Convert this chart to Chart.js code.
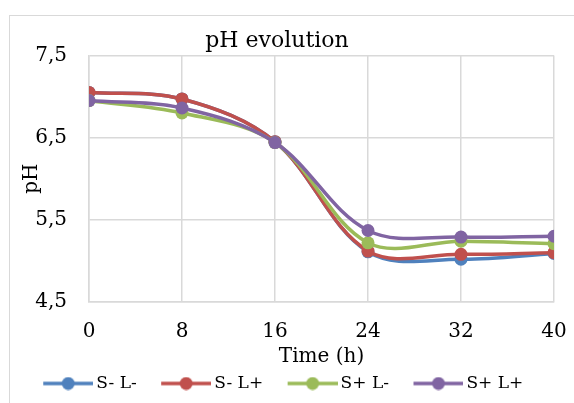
<!DOCTYPE html>
<html>
<head>
<meta charset="utf-8">
<script src="https://cdn.jsdelivr.net/npm/chart.js@4.4.1/dist/chart.umd.min.js"></script>
<style>
  body { margin: 0; background: #fff; }
  #wrap { position: relative; width: 574px; height: 403px; overflow: hidden; }
  #frame { position: absolute; left: 9px; top: 15px; width: 620px; height: 440px; border: 1px solid #d9d9d9; }
  #chart { position: absolute; left: 0; top: 0; }
</style>
</head>
<body>
<div id="wrap">
  <div id="frame"></div>
  <canvas id="chart" width="574" height="403"></canvas>
</div>
<script>
// Dados
const timeH = [0, 8, 16, 24, 32, 40];
const sMinusLMinus = [7.05, 6.97, 6.45, 5.11, 5.02, 5.09];
const sMinusLPlus = [7.05, 6.97, 6.45, 5.12, 5.08, 5.10];
const sPlusLMinus = [6.95, 6.80, 6.44, 5.22, 5.24, 5.21];
const sPlusLPlus = [6.95, 6.86, 6.44, 5.37, 5.29, 5.30];
const xTicks = [0, 8, 16, 24, 32, 40];
const yTicks = [4.5, 5.5, 6.5, 7.5];

const seriesNames = ['S- L-', 'S- L+', 'S+ L-', 'S+ L+'];
const seriesColors = ['#4f81bd', '#c0504d', '#9bbb59', '#8064a2'];
const seriesValues = [sMinusLMinus, sMinusLPlus, sPlusLMinus, sPlusLPlus];

const fontFamily = '"DejaVu Serif", serif';

// Ícone da legenda: linha com marcador (deslocado para a direita)
function legendIcon(color) {
    const c = document.createElement('canvas');
    c.width = 68;
    c.height = 14;
    const g = c.getContext('2d');
    g.strokeStyle = color;
    g.lineWidth = 3.5;
    g.beginPath();
    g.moveTo(18, 7);
    g.lineTo(68, 7);
    g.stroke();
    g.fillStyle = color;
    g.beginPath();
    g.arc(43, 7, 6.5, 0, Math.PI * 2);
    g.fill();
    return c;
}

const datasets = seriesNames.map(function(name, i) {
    return {
        label: name,
        data: timeH.map(function(t, j) { return { x: t, y: seriesValues[i][j] }; }),
        borderColor: seriesColors[i],
        backgroundColor: seriesColors[i],
        pointBackgroundColor: seriesColors[i],
        pointBorderWidth: 0,
        pointRadius: 6.5,
        pointStyle: 'circle',
        borderWidth: 3.5,
        tension: 0.35,
        order: 4 - i
    };
});

const gridColor = '#d9d9d9';

new Chart(document.getElementById('chart'), {
    type: 'line',
    data: { datasets: datasets },
    options: {
        responsive: false,
        animation: false,
        layout: { padding: { left: 0, right: 20, top: 0, bottom: 1 } },
        plugins: {
            title: {
                display: true,
                text: 'pH evolution',
                color: '#000',
                font: { family: fontFamily, size: 22, weight: 'normal' },
                padding: { top: 28, bottom: 1 }
            },
            legend: {
                position: 'bottom',
                labels: {
                    usePointStyle: true,
                    pointStyleWidth: 57,
                    boxHeight: 14,
                    padding: 12,
                    color: '#000',
                    font: { family: fontFamily, size: 17 },
                    generateLabels: function(chart) {
                        return seriesNames.map(function(name, i) {
                            return {
                                text: name,
                                datasetIndex: i,
                                fillStyle: seriesColors[i],
                                strokeStyle: seriesColors[i],
                                lineWidth: 0,
                                pointStyle: legendIcon(seriesColors[i]),
                                fontColor: '#000',
                                hidden: false
                            };
                        });
                    }
                }
            },
            tooltip: { enabled: false }
        },
        scales: {
            x: {
                type: 'linear',
                min: 0,
                max: 40,
                afterBuildTicks: function(scale) {
                    scale.ticks = xTicks.map(function(v) { return { value: v }; });
                },
                afterFit: function(scale) {
                    scale.height = 61;
                    scale.paddingLeft = 0;
                    scale.paddingRight = 0;
                },
                ticks: {
                    color: '#000',
                    padding: 18,
                    maxRotation: 0,
                    font: { family: fontFamily, size: 20 }
                },
                grid: { color: gridColor, lineWidth: 1.5, drawTicks: false },
                border: { color: gridColor, width: 1.5 },
                title: {
                    display: true,
                    text: 'Time (h)',
                    color: '#000',
                    font: { family: fontFamily, size: 20 },
                    padding: { top: 0, bottom: -6 }
                }
            },
            y: {
                min: 4.5,
                max: 7.5,
                afterBuildTicks: function(scale) {
                    scale.ticks = yTicks.map(function(v) { return { value: v }; });
                },
                afterFit: function(scale) { scale.width = 89; },
                ticks: {
                    color: '#000',
                    padding: 22,
                    font: { family: fontFamily, size: 20 },
                    callback: function(v) { return v.toFixed(1).replace('.', ','); }
                },
                grid: { color: gridColor, lineWidth: 1.5, drawTicks: false },
                border: { color: gridColor, width: 1.5 },
                title: {
                    display: true,
                    text: 'pH',
                    color: '#000',
                    font: { family: fontFamily, size: 20 },
                    padding: { top: 20, bottom: 0 }
                }
            }
        }
    }
});
</script>
</body>
</html>
